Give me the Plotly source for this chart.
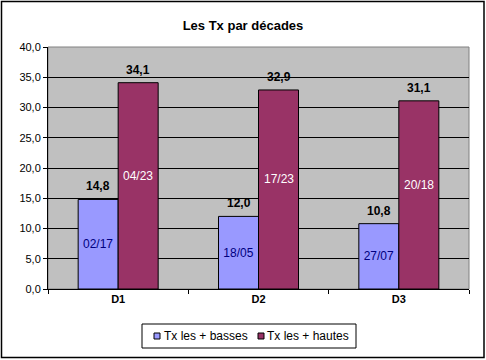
import plotly.graph_objects as go

categories = ["D1", "D2", "D3"]
tx_basses = [14.8, 12.0, 10.8]
tx_hautes = [34.1, 32.9, 31.1]
dates_basses = ["02/17", "18/05", "27/07"]
dates_hautes = ["04/23", "17/23", "20/18"]
series_names = ["Tx les + basses", "Tx les + hautes"]
series_colors = ["#9999FF", "#993366"]
y_ticks = [0, 5, 10, 15, 20, 25, 30, 35, 40]

# plot area in pixels (for paper-coordinate conversion of decorations)
L, R, T, B = 48, 469, 47, 289
W, H = R - L, B - T


def px(x):
    return (x - L) / W


def py(y):
    return (B - y) / H


fig = go.Figure()
fig.add_trace(go.Bar(
    x=categories, y=tx_basses, name=series_names[0],
    marker=dict(color=series_colors[0], line=dict(color="black", width=1)),
    text=dates_basses, textposition="inside", insidetextanchor="middle",
    textfont=dict(family="Arial", size=12, color="#000080"),
    textangle=0,
))
fig.add_trace(go.Bar(
    x=categories, y=tx_hautes, name=series_names[1],
    marker=dict(color=series_colors[1], line=dict(color="black", width=1)),
))

annotations = []
for vals, shift in ((tx_basses, -20), (tx_hautes, 20)):
    for cat, v in zip(categories, vals):
        annotations.append(dict(x=cat, y=v, xref="x", yref="y", xshift=shift, yshift=4,
                                text=f"{v:.1f}".replace(".", ","), showarrow=False,
                                yanchor="bottom",
                                font=dict(family="Arial", size=12, color="black",
                                          weight="bold")))
# date labels inside the "hautes" bars (sit a little above the bar centre)
for cat, v, d in zip(categories, tx_hautes, dates_hautes):
    annotations.append(dict(x=cat, y=v / 2, xref="x", yref="y", xshift=20, yshift=10,
                            text=d, showarrow=False, yanchor="middle",
                            font=dict(family="Arial", size=12, color="white")))

# custom compact legend (Excel style)
legend_items = [(154, 162, series_names[0], series_colors[0]),
                (258, 265, series_names[1], series_colors[1])]
shapes = [
    dict(type="rect", xref="paper", yref="paper", x0=0, x1=1, y0=0, y1=1,
         line=dict(color="#808080", width=1), layer="below"),
    dict(type="rect", xref="paper", yref="paper",
         x0=px(1.5), x1=px(484), y0=py(357.5), y1=py(1.5),
         line=dict(color="black", width=1.5)),
    dict(type="rect", xref="paper", yref="paper",
         x0=px(142), x1=px(356), y0=py(348), y1=py(324),
         line=dict(color="black", width=1), fillcolor="white"),
]
for sx, tx, name, col in legend_items:
    shapes.append(dict(type="rect", xref="paper", yref="paper",
                       x0=px(sx), x1=px(sx + 6), y0=py(339), y1=py(333),
                       line=dict(color="black", width=1), fillcolor=col))
    annotations.append(dict(x=px(tx), y=py(336), xref="paper", yref="paper",
                            xanchor="left", yanchor="middle", showarrow=False,
                            text=name, font=dict(family="Arial", size=12, color="black")))

fig.update_layout(
    width=486, height=360,
    margin=dict(l=L, r=486 - R, t=T, b=360 - B),
    paper_bgcolor="white", plot_bgcolor="#C0C0C0",
    separators=", ",
    barmode="group", bargap=0.43, bargroupgap=0,
    title=dict(text="<b>Les Tx par décades</b>", x=0.5, xanchor="center",
               y=1 - 25 / 360, yanchor="middle",
               font=dict(family="Arial", size=13, color="black")),
    font=dict(family="Arial", size=11, color="black"),
    showlegend=False,
    annotations=annotations,
    shapes=shapes,
)
fig.update_xaxes(showline=True, linecolor="black", linewidth=1,
                 ticks="outside", tickson="boundaries", ticklen=4, tickcolor="black",
                 tickfont=dict(family="Arial", size=11, color="black", weight="bold"),
                 showgrid=False)
fig.update_yaxes(range=[0, 40], tickvals=y_ticks, tickformat=".1f",
                 showline=True, linecolor="black", linewidth=1,
                 ticks="outside", ticklen=4, tickcolor="black",
                 showgrid=True, gridcolor="black", gridwidth=1,
                 zeroline=False,
                 tickfont=dict(family="Arial", size=11, color="black"))

fig.write_html("out.html", config={"displayModeBar": False},
               post_script="document.body.style.margin='0';document.body.style.overflow='hidden';")
